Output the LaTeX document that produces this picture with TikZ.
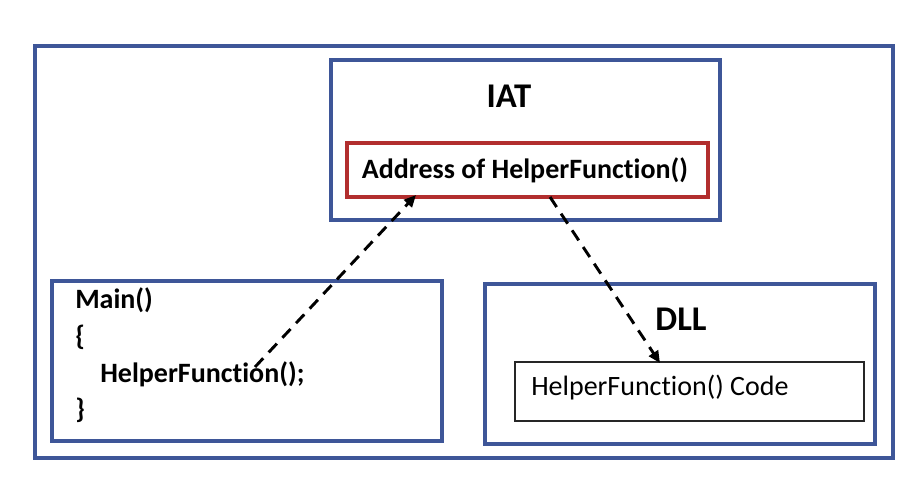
\documentclass[tikz,border=0pt]{standalone}
\usepackage{fontspec}
\setmainfont{Carlito}[Ligatures=NoCommon]
\usetikzlibrary{arrows.meta}
\definecolor{frameblue}{RGB}{62,86,152}
\definecolor{addrred}{RGB}{178,46,46}

\begin{document}
\begin{tikzpicture}
[
	x=0.75pt,y=-0.75pt,
	bluebox/.style={draw=frameblue,line width=2.5pt,inner sep=0pt},
	redbox/.style={draw=addrred,line width=2.5pt,inner sep=0pt},
	codebox/.style={draw=black!85,line width=1pt,inner sep=0pt},
	txt/.style={font=\fontsize{21}{25}\selectfont,inner sep=0pt},
	boldtxt/.style={font=\fontsize{21}{25}\selectfont\bfseries,inner sep=0pt},
	title/.style={font=\fontsize{26}{30}\selectfont\bfseries,inner sep=0pt},
	link/.style={line width=2.2pt,dash pattern=on 9pt off 6pt,-{Triangle[length=9pt,width=8pt]}}
]

	\useasboundingbox (0,0) rectangle (916,498);

	% frames
	\node[bluebox,minimum width=643.5pt,minimum height=309pt] (outer) at (464,252) {};
	\node[bluebox,minimum width=291.75pt,minimum height=120pt] (iat) at (525.5,140) {};
	\node[redbox,minimum width=270.75pt,minimum height=40.5pt] (addr) at (527.5,170) {};
	\node[bluebox,minimum width=292.5pt,minimum height=120pt] (main) at (247,361) {};
	\node[bluebox,minimum width=292.5pt,minimum height=120pt] (dll) at (680,364) {};
	\node[codebox,minimum width=261.75pt,minimum height=44.25pt] (code) at (689.5,391.5) {};

	% labels
	\node[title] (iattitle) at (509,96) {IAT};
	\node[boldtxt] (addrtext) at (525,170) {Address of HelperFunction()};
	\node[title] (dlltitle) at (681,319) {DLL};
	\node[txt,anchor=west] (codetext) at (531,388) {HelperFunction() Code};

	\node[boldtxt,anchor=west] (mainhead) at (75,300) {Main()};
	\node[boldtxt,anchor=west] (openbrace) at (75,337) {\{};
	\node[boldtxt,anchor=west] (call) at (100,374) {HelperFunction();};
	\node[boldtxt,anchor=west] (closebrace) at (75,410) {\}};

	% links
	\coordinate (callsite) at (255,367);
	\coordinate (addrin) at (416,195);
	\coordinate (addrout) at (550,197);
	\coordinate (codein) at (660,363);
	\draw[link] (callsite) -- (addrin);
	\draw[link] (addrout) -- (codein);

\end{tikzpicture}
\end{document}
